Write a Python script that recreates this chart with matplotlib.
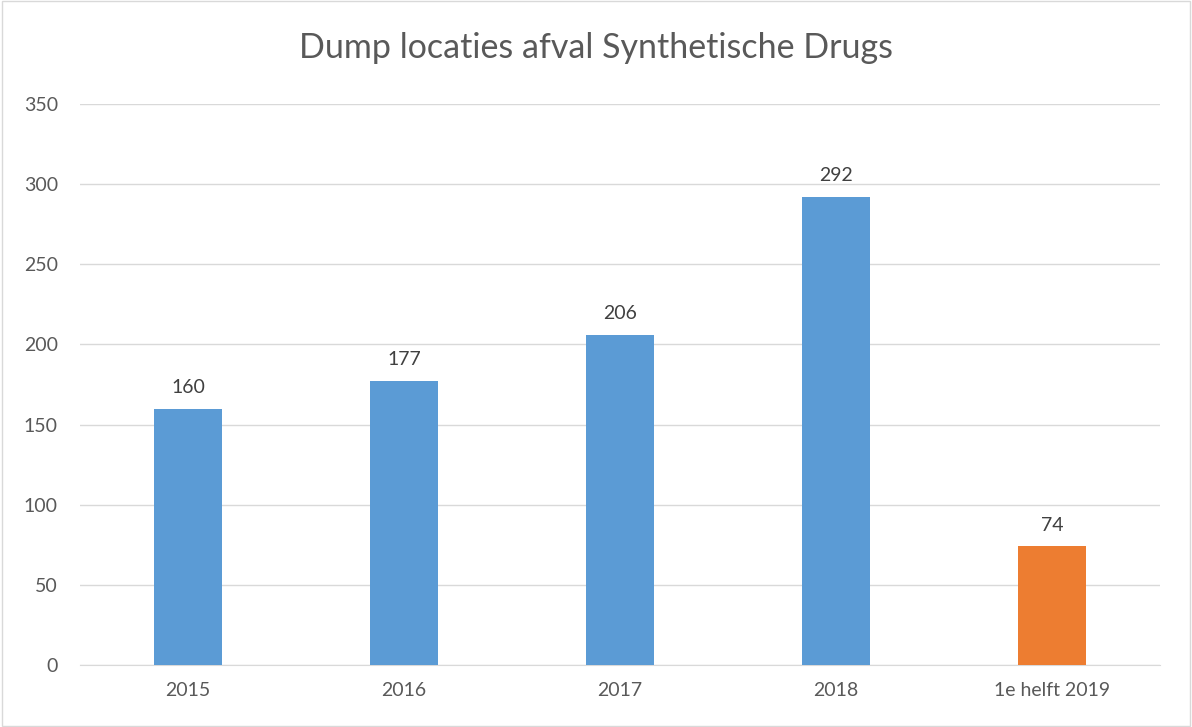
import matplotlib
matplotlib.use("Agg")
import matplotlib.pyplot as plt
from matplotlib.patches import Rectangle

categories = ["2015", "2016", "2017", "2018", "1e helft 2019"]
values = [160, 177, 206, 292, 74]
colors = ["#5B9BD5", "#5B9BD5", "#5B9BD5", "#5B9BD5", "#ED7D31"]
yticks = [0, 50, 100, 150, 200, 250, 300, 350]
title = "Dump locaties afval Synthetische Drugs"

plt.rcParams['font.family'] = ['Lato', 'DejaVu Sans']

fig = plt.figure(figsize=(11.92, 7.27), dpi=100)
ax = fig.add_axes([80/1192, 62/727, 1080/1192, 561/727])

x = range(len(categories))
bars = ax.bar(x, values, width=0.315, color=colors, zorder=3)
for i, v in enumerate(values):
    ax.text(i, v + 8, str(v), ha='center', va='bottom', fontsize=14, color='#404040')

ax.set_xlim(-0.5, len(categories) - 0.5)
ax.set_ylim(0, 350)
ax.set_yticks(yticks)
ax.set_xticks(list(x))
ax.set_xticklabels(categories)
ax.tick_params(axis='both', length=0, labelsize=14, labelcolor='#595959')
ax.tick_params(axis='y', pad=16)
ax.tick_params(axis='x', pad=12)
ax.grid(axis='y', color='#D9D9D9', linewidth=1, zorder=0)
for s in ['top', 'right', 'left']:
    ax.spines[s].set_visible(False)
ax.spines['bottom'].set_color('#D9D9D9')

fig.text(0.5, 1 - 48/727, title, ha='center', va='center', fontsize=24.5, color='#595959')
fig.patches.append(Rectangle((0.002, 0.002), 0.996, 0.996, transform=fig.transFigure,
                             fill=False, edgecolor='#D9D9D9', linewidth=1))

fig.savefig("out.png", dpi=100)
